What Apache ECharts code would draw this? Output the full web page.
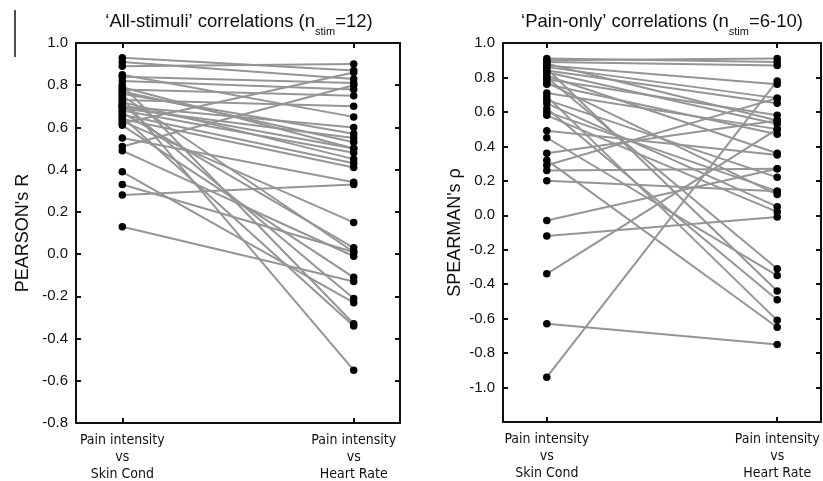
<!DOCTYPE html>
<html><head><meta charset="utf-8">
<script src="https://cdn.jsdelivr.net/npm/echarts@6/dist/echarts.min.js"></script>
<style>html,body{margin:0;padding:0;background:#fff}#c{width:823px;height:481px}</style>
</head><body><div id="c"></div>
<script>
// Category labels (x positions 0 and 1)
const categories = ['Pain intensity\nvs\nSkin Cond', 'Pain intensity\nvs\nHeart Rate'];

// Left panel: Pearson's R per subject
const pearsonSkinCond  = [0.93, 0.91, 0.89, 0.85, 0.84, 0.82, 0.80, 0.79, 0.78, 0.77, 0.76, 0.75, 0.74, 0.73, 0.72, 0.71, 0.70, 0.70, 0.69, 0.68, 0.67, 0.66, 0.65, 0.64, 0.63, 0.62, 0.61, 0.55, 0.51, 0.49, 0.39, 0.33, 0.28, 0.13];
const pearsonHeartRate = [0.87, 0.83, 0.90, 0.65, 0.81, 0.78, -0.33, 0.50, 0.75, 0.53, 0.57, 0.01, -0.55, 0.70, 0.45, -0.21, 0.60, 0.50, 0.55, 0.48, 0.03, 0.43, -0.34, 0.41, 0.15, 0.86, -0.11, 0.34, 0.80, -0.01, -0.23, 0.01, 0.33, -0.13];

// Right panel: Spearman's rho per subject
const spearmanSkinCond  = [0.91, 0.90, 0.89, 0.88, 0.87, 0.86, 0.85, 0.84, 0.83, 0.81, 0.80, 0.79, 0.77, 0.76, 0.71, 0.69, 0.67, 0.65, 0.62, 0.60, 0.58, 0.49, 0.45, 0.36, 0.32, 0.29, 0.26, 0.20, -0.03, -0.12, -0.34, -0.63, -0.94];
const spearmanHeartRate = [0.89, 0.91, 0.87, 0.55, 0.76, 0.68, -0.44, 0.65, 0.53, 0.36, -0.31, 0.58, 0.12, 0.47, 0.50, -0.61, 0.22, 0.05, -0.49, 0.14, 0.02, 0.35, -0.35, 0.55, -0.65, 0.68, 0.27, 0.14, 0.27, -0.01, 0.50, -0.75, 0.78];

// Axis ranges / ticks
const pearsonAxis  = {min: -0.8, max: 1.0, interval: 0.2};
const spearmanAxis = {min: -1.2, max: 1.0, interval: 0.2};
const hiddenSpearmanLabels = ['-1.2'];

const chart = echarts.init(document.getElementById('c'), null, {renderer: 'canvas'});
const FONT = 'Liberation Sans, Arial, sans-serif';
const NARROW = "'Liberation Sans Narrow', 'DejaVu Sans', sans-serif";
const LINE_COLOR = '#959595';

function xAxes(gridIndex, xmin, xmax) {
  const base = {
    type: 'value', gridIndex, min: xmin, max: xmax,
    axisLine: {show: true, onZero: false, lineStyle: {color: '#111', width: 2}},
    splitLine: {show: false}
  };
  return [
    Object.assign({}, base, {
      position: 'bottom',
      axisTick: {show: true, inside: true, length: 5, customValues: [0, 1], lineStyle: {color: '#111', width: 2}},
      axisLabel: {show: true, customValues: [0, 1], formatter: v => categories[Math.round(v)],
        fontFamily: NARROW, fontWeight: 'normal condensed', fontSize: 14, lineHeight: 17, color: '#111', margin: 9}
    }),
    Object.assign({}, base, {
      position: 'top',
      axisTick: {show: true, inside: true, length: 5, customValues: [0, 1], lineStyle: {color: '#111', width: 2}},
      axisLabel: {show: false}
    })
  ];
}

function yAxes(gridIndex, rng, name, gap, hidden) {
  const base = {
    type: 'value', gridIndex, min: rng.min, max: rng.max, interval: rng.interval,
    axisLine: {show: true, onZero: false, lineStyle: {color: '#111', width: 2}},
    axisTick: {show: true, inside: true, length: 5, lineStyle: {color: '#111', width: 2}},
    splitLine: {show: false}
  };
  return [
    Object.assign({}, base, {
      position: 'left', name, nameLocation: 'middle', nameGap: gap,
      nameTextStyle: {fontFamily: FONT, fontSize: 18, color: '#111'},
      axisLabel: {show: true, margin: 8, fontFamily: FONT, fontSize: 15, color: '#111',
        formatter: v => { const s = (Math.abs(v) < 1e-9 ? 0 : v).toFixed(1); return hidden.includes(s) ? '' : s; }}
    }),
    Object.assign({}, base, {position: 'right', axisLabel: {show: false}})
  ];
}

const series = [];
function addPanel(a, b, xi, yi) {
  for (let i = 0; i < a.length; i++) {
    series.push({
      type: 'line', xAxisIndex: xi, yAxisIndex: yi, symbol: 'none', silent: true,
      lineStyle: {color: LINE_COLOR, width: 2}, z: 2,
      data: [[0, a[i]], [1, b[i]]]
    });
  }
  series.push({
    type: 'scatter', xAxisIndex: xi, yAxisIndex: yi, symbolSize: 7.5, z: 5,
    itemStyle: {color: '#000', opacity: 1},
    data: a.map(v => [0, v]).concat(b.map(v => [1, v]))
  });
}
addPanel(pearsonSkinCond, pearsonHeartRate, 0, 0);
addPanel(spearmanSkinCond, spearmanHeartRate, 2, 2);

const titleRich = {
  sub: {fontFamily: FONT, fontSize: 11, color: '#111', verticalAlign: 'bottom', padding: [0, 0, -6, 0]}
};

chart.setOption({
  backgroundColor: '#fff',
  animation: false,
  title: [
    {text: '‘All-stimuli’ correlations (n{sub|stim}=12)', left: 234, top: 7, textAlign: 'center',
     textStyle: {fontFamily: FONT, fontSize: 18.5, fontWeight: 'normal', color: '#111', rich: titleRich}},
    {text: '‘Pain-only’ correlations (n{sub|stim}=6-10)', left: 657, top: 7, textAlign: 'center',
     textStyle: {fontFamily: FONT, fontSize: 18.5, fontWeight: 'normal', color: '#111', rich: titleRich}}
  ],
  grid: [
    {left: 76, right: 423, top: 43, bottom: 58, containLabel: false, outerBoundsMode: 'none'},
    {left: 503, right: 2, top: 43, bottom: 59, containLabel: false, outerBoundsMode: 'none'}
  ],
  xAxis: xAxes(0, -0.2, 1.2).concat(xAxes(1, -0.19, 1.19)),
  yAxis: yAxes(0, pearsonAxis, "PEARSON's R", 44, []).concat(yAxes(1, spearmanAxis, "SPEARMAN's ρ", 39, hiddenSpearmanLabels)),
  graphic: [
    {type: 'line', shape: {x1: 15, y1: 10, x2: 15, y2: 57}, style: {stroke: '#111', lineWidth: 1.5}}
  ],
  series
});
</script>
</body></html>
